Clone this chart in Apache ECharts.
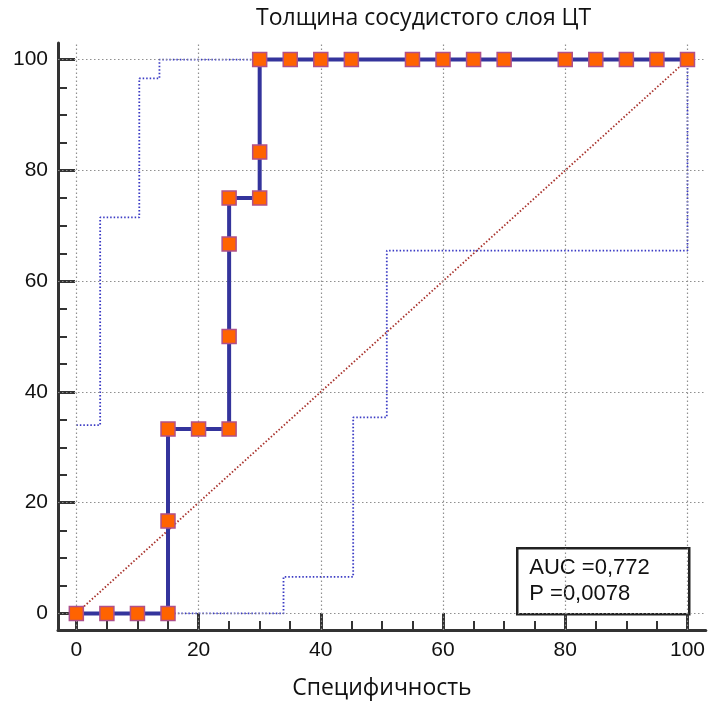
<!DOCTYPE html>
<html><head><meta charset="utf-8">
<script src="https://cdn.jsdelivr.net/npm/echarts@6/dist/echarts.min.js"></script>
<style>html,body{margin:0;padding:0;background:#fff}#c{width:708px;height:706px}</style>
</head><body><div id="c"></div>
<script>
const titleText = 'Толщина сосудистого слоя ЦТ';
const xAxisName = 'Специфичность';
const majorTicks = [0, 20, 40, 60, 80, 100];
const minorTicks = [0, 5, 10, 15, 20, 25, 30, 35, 40, 45, 50, 55, 60, 65, 70, 75, 80, 85, 90, 95, 100];
const rocX = [0, 5, 10, 15, 15, 15, 20, 25, 25, 25, 25, 30, 30, 30, 35, 40, 45, 55, 60, 65, 70, 80, 85, 90, 95, 100];
const rocY = [0, 0, 0, 0, 16.7, 33.3, 33.3, 33.3, 50, 66.7, 75, 75, 83.3, 100, 100, 100, 100, 100, 100, 100, 100, 100, 100, 100, 100, 100];
const upperX = [0, 3.9, 3.9, 10.3, 10.3, 13.6, 13.6, 100];
const upperY = [34.0, 34.0, 71.5, 71.5, 96.6, 96.6, 100, 100];
const lowerX = [0, 33.9, 33.9, 45.3, 45.3, 50.8, 50.8, 100, 100];
const lowerY = [0, 0, 6.6, 6.6, 35.4, 35.4, 65.5, 65.5, 100];
const diagX = [0, 100];
const diagY = [0, 100];
const statLines = ['AUC =0,772', 'P =0,0078'];

const zip = (xs, ys) => xs.map((x, i) => [x, ys[i]]);
const AX_MIN = -3, AX_MAX = 103;
const labelFont = { fontFamily: 'Liberation Sans', fontSize: 21, color: '#111' };

const chart = echarts.init(document.getElementById('c'), null, { renderer: 'canvas' });
chart.setOption({
  animation: false,
  backgroundColor: '#fff',
  title: {
    text: titleText, left: 251, top: 2,
    textStyle: { fontFamily: 'Open Sans', fontSize: 23, fontWeight: 'normal', color: '#111' }
  },
  grid: { left: 58, right: 2, top: 43, bottom: 76, containLabel: false },
  xAxis: [
    {
      type: 'value', min: AX_MIN, max: AX_MAX, position: 'bottom',
      name: xAxisName, nameLocation: 'middle', nameGap: 47,
      nameTextStyle: { fontFamily: 'Open Sans', fontSize: 23, color: '#111' },
      axisLine: { show: true, onZero: false, lineStyle: { color: '#333', width: 3 } },
      axisTick: { show: true, inside: true, length: 17, customValues: majorTicks, lineStyle: { color: '#333', width: 3 } },
      axisLabel: Object.assign({ customValues: majorTicks, margin: 10 }, labelFont),
      splitLine: { show: false }
    },
    {
      type: 'value', min: AX_MIN, max: AX_MAX, position: 'bottom',
      axisLine: { show: false, onZero: false },
      axisTick: { show: true, inside: true, length: 9, customValues: minorTicks, lineStyle: { color: '#333', width: 2 } },
      axisLabel: { show: false },
      splitLine: { show: false }
    }
  ],
  yAxis: [
    {
      type: 'value', min: AX_MIN, max: AX_MAX, position: 'left',
      axisLine: { show: true, onZero: false, lineStyle: { color: '#333', width: 3 } },
      axisTick: { show: true, inside: true, length: 17, customValues: majorTicks, lineStyle: { color: '#333', width: 3 } },
      axisLabel: Object.assign({ customValues: majorTicks, margin: 10 }, labelFont),
      splitLine: { show: false }
    },
    {
      type: 'value', min: AX_MIN, max: AX_MAX, position: 'left',
      axisLine: { show: false, onZero: false },
      axisTick: { show: true, inside: true, length: 9, customValues: minorTicks, lineStyle: { color: '#333', width: 2 } },
      axisLabel: { show: false },
      splitLine: { show: false }
    }
  ],
  series: [
    {
      name: 'grid', type: 'line', data: [], silent: true,
      markLine: {
        silent: true, symbol: 'none', label: { show: false },
        lineStyle: { type: [1.5, 2.5], color: '#8f8f8f', width: 1.2 },
        data: majorTicks.map(v => ({ xAxis: v })).concat(majorTicks.map(v => ({ yAxis: v })))
      }
    },
    {
      name: 'diag', type: 'line', data: zip(diagX, diagY), showSymbol: false, symbol: 'none',
      lineStyle: { type: [1.5, 2], color: '#a8322c', width: 1.8 }
    },
    {
      name: 'upper', type: 'line', data: zip(upperX, upperY), symbol: 'none',
      lineStyle: { type: [1.5, 2], color: '#3a3ac4', width: 1.8 }
    },
    {
      name: 'lower', type: 'line', data: zip(lowerX, lowerY), symbol: 'none',
      lineStyle: { type: [1.5, 2], color: '#3a3ac4', width: 1.8 }
    },
    {
      name: 'roc', type: 'line', data: zip(rocX, rocY),
      symbol: 'rect', symbolSize: 14, showAllSymbol: true,
      lineStyle: { color: '#34349c', width: 4 },
      itemStyle: { color: '#ff6300', borderColor: '#b0508a', borderWidth: 1.5 },
      z: 5
    }
  ],
  graphic: [
    {
      type: 'group', left: 516, top: 547,
      children: [
        { type: 'rect', shape: { x: 0, y: 0, width: 172, height: 66 }, style: { fill: '#fff', stroke: '#222', lineWidth: 2.5 } },
        { type: 'text', x: 12, y: 9, style: { text: statLines[0], fontFamily: 'Liberation Sans', fontSize: 22, fill: '#111' } },
        { type: 'text', x: 12, y: 35, style: { text: statLines[1], fontFamily: 'Liberation Sans', fontSize: 22, fill: '#111' } }
      ]
    }
  ]
});
</script></body></html>
